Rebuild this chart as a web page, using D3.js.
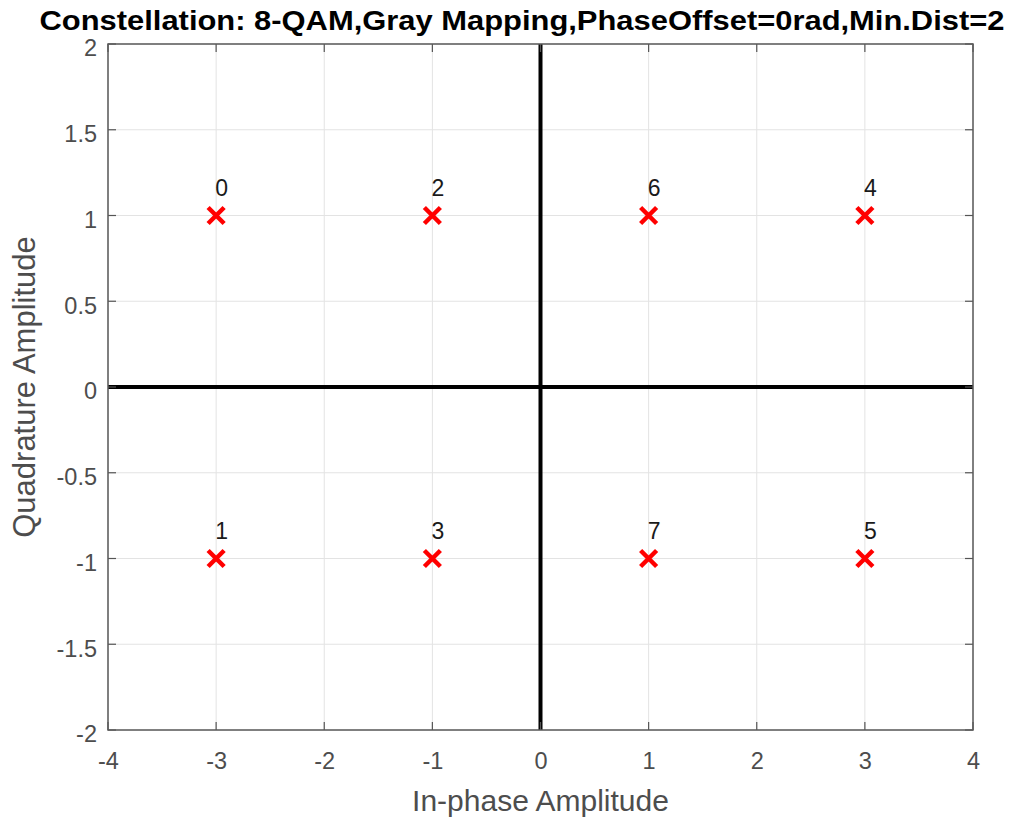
<!DOCTYPE html>
<html><head><meta charset="utf-8">
<script src="https://cdn.jsdelivr.net/npm/d3@7"></script>
<style>body{margin:0;background:#fff;}svg{display:block;}</style>
</head><body>
<script>
const titleText = "Constellation: 8-QAM,Gray Mapping,PhaseOffset=0rad,Min.Dist=2";
const xLabel = "In-phase Amplitude";
const yLabel = "Quadrature Amplitude";
const pointI = [-3, -3, -1, -1, 3, 3, 1, 1];
const pointQ = [1, -1, 1, -1, 1, -1, 1, -1];
const symbolLabels = ["0", "1", "2", "3", "4", "5", "6", "7"];
const xTicks = [-4, -3, -2, -1, 0, 1, 2, 3, 4];
const yTicks = [-2, -1.5, -1, -0.5, 0, 0.5, 1, 1.5, 2];

const W = 1014, H = 818;
const L = 108, R = 973, T = 44, B = 730;
const svg = d3.select("body").append("svg").attr("width", W).attr("height", H);
const x = d3.scaleLinear().domain([-4, 4]).range([L, R]);
const y = d3.scaleLinear().domain([-2, 2]).range([B, T]);
const font = "'Liberation Sans', Arial, sans-serif";
const tickCol = "#4d4d4d";

// grid
const g = svg.append("g");
g.selectAll(".gx").data(xTicks).enter().append("line")
  .attr("x1", d => x(d)).attr("x2", d => x(d)).attr("y1", T).attr("y2", B)
  .attr("stroke", "#e3e3e3").attr("stroke-width", 1);
g.selectAll(".gy").data(yTicks).enter().append("line")
  .attr("y1", d => y(d)).attr("y2", d => y(d)).attr("x1", L).attr("x2", R)
  .attr("stroke", "#e3e3e3").attr("stroke-width", 1);

// zero lines
svg.append("line").attr("x1", x(0)).attr("x2", x(0)).attr("y1", T).attr("y2", B)
  .attr("stroke", "#000").attr("stroke-width", 4);
svg.append("line").attr("y1", y(0)).attr("y2", y(0)).attr("x1", L).attr("x2", R)
  .attr("stroke", "#000").attr("stroke-width", 4);

// axes
const fmt = d => String(d).replace("\u2212", "-");
const xAxis = d3.axisBottom(x).tickValues(xTicks).tickSize(0).tickPadding(22).tickFormat(fmt);
const yAxis = d3.axisLeft(y).tickValues(yTicks).tickSize(0).tickPadding(11).tickFormat(fmt);
const xa = svg.append("g").attr("transform", `translate(0,${B})`).call(xAxis);
const ya = svg.append("g").attr("transform", `translate(${L},0)`).call(yAxis);
[xa, ya].forEach(a => {
  a.select(".domain").remove();
  a.selectAll("text").attr("fill", tickCol).style("font-family", font).style("font-size", "23.5px");
});
ya.selectAll("text").attr("dy", "0.5em");

// inner ticks
const tk = 8;
xTicks.forEach(d => {
  svg.append("line").attr("x1", x(d)).attr("x2", x(d)).attr("y1", B).attr("y2", B - tk).attr("stroke", "#555").attr("stroke-width", 1.2);
  svg.append("line").attr("x1", x(d)).attr("x2", x(d)).attr("y1", T).attr("y2", T + tk).attr("stroke", "#555").attr("stroke-width", 1.2);
});
yTicks.forEach(d => {
  svg.append("line").attr("y1", y(d)).attr("y2", y(d)).attr("x1", L).attr("x2", L + tk).attr("stroke", "#555").attr("stroke-width", 1.2);
  svg.append("line").attr("y1", y(d)).attr("y2", y(d)).attr("x1", R).attr("x2", R - tk).attr("stroke", "#555").attr("stroke-width", 1.2);
});

// box
svg.append("rect").attr("x", L).attr("y", T).attr("width", R - L).attr("height", B - T)
  .attr("fill", "none").attr("stroke", "#5a5a5a").attr("stroke-width", 1.5);

// points
const s = 8;
const pts = svg.append("g");
pointI.forEach((xi, i) => {
  const cx = x(xi), cy = y(pointQ[i]);
  pts.append("path").attr("d", `M${cx - s},${cy - s}L${cx + s},${cy + s}M${cx - s},${cy + s}L${cx + s},${cy - s}`)
    .attr("stroke", "#ff0000").attr("stroke-width", 4.5).attr("fill", "none");
  pts.append("text").attr("x", cx - 1).attr("y", cy - 20).text(symbolLabels[i])
    .style("font-family", font).style("font-size", "23px").attr("fill", "#1a1a1a");
});

// title
svg.append("text").attr("x", 522).attr("y", 30).attr("text-anchor", "middle")
  .attr("textLength", 965).attr("lengthAdjust", "spacingAndGlyphs")
  .style("font-family", font).style("font-size", "27px").style("font-weight", "bold").attr("fill", "#000")
  .text(titleText);

// axis labels
svg.append("text").attr("x", x(0)).attr("y", 811).attr("text-anchor", "middle")
  .style("font-family", font).style("font-size", "30px").attr("fill", tickCol).text(xLabel);
svg.append("text").attr("transform", `translate(35,${(T + B) / 2}) rotate(-90)`).attr("text-anchor", "middle")
  .style("font-family", font).style("font-size", "31px").attr("fill", tickCol).text(yLabel);
</script>
</body></html>
